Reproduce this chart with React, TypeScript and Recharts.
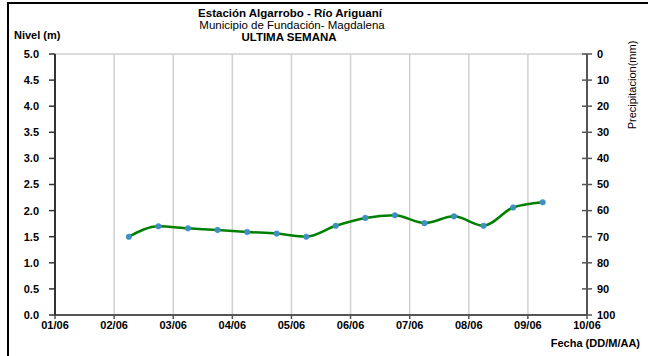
import React from "react";
import { ComposedChart, Line, XAxis, YAxis, CartesianGrid } from "recharts";

// Days since 01/06 (0 = 01/06 00:00)
const dayOffsets = [1.25, 1.75, 2.25, 2.75, 3.25, 3.75, 4.25, 4.75, 5.25, 5.75, 6.25, 6.75, 7.25, 7.75, 8.25];
const levels = [1.5, 1.7, 1.66, 1.63, 1.59, 1.56, 1.5, 1.71, 1.86, 1.91, 1.76, 1.89, 1.71, 2.06, 2.16];
const dateTicks = [0, 1, 2, 3, 4, 5, 6, 7, 8, 9];
const dateLabels = ["01/06", "02/06", "03/06", "04/06", "05/06", "06/06", "07/06", "08/06", "09/06", "10/06"];
const levelTicks = [0, 0.5, 1, 1.5, 2, 2.5, 3, 3.5, 4, 4.5, 5];
const rainTicks = [0, 10, 20, 30, 40, 50, 60, 70, 80, 90, 100];

const data = dayOffsets.map((d, i) => ({ day: d, nivel: levels[i], lluvia: null as number | null }));

const FONT = "'Liberation Sans', Arial, sans-serif";

const RightTick = (props: any) => {
  const { x, y, payload } = props;
  return (
    <g>
      <line x1={x - 15} x2={x - 5} y1={y} y2={y} stroke="#555" strokeWidth={1.5} />
      <text x={x} y={y} dy="0.35em" textAnchor="start" fontFamily={FONT} fontWeight="bold" fontSize={11} fill="#000">
        {payload.value}
      </text>
    </g>
  );
};

export default function App() {
  return (
    <div style={{ position: "fixed", left: 0, top: 0, width: 648, height: 356, background: "#fff", overflow: "hidden" }}>
      <ComposedChart width={648} height={356} data={data} margin={{ top: 54, right: 0, bottom: 0, left: 0 }}>
        <CartesianGrid stroke="#d0d0d0" strokeWidth={1.5} />
        <XAxis
          dataKey="day"
          type="number"
          domain={[0, 9]}
          ticks={dateTicks}
          tickFormatter={(v: number) => dateLabels[v]}
          height={41}
          axisLine={{ stroke: "#555", strokeWidth: 2 }}
          tickLine={{ stroke: "#555", strokeWidth: 1.5 }}
          tickSize={4}
          tickMargin={2}
          tick={{ fontFamily: FONT, fontWeight: "bold", fontSize: 11, fill: "#000" }}
          interval={0}
        />
        <YAxis
          yAxisId="left"
          domain={[0, 5]}
          ticks={levelTicks}
          tickFormatter={(v: number) => v.toFixed(1)}
          width={55}
          axisLine={{ stroke: "#333", strokeWidth: 2 }}
          tickLine={{ stroke: "#333", strokeWidth: 1.5 }}
          tickSize={6}
          tickMargin={10}
          tick={{ fontFamily: FONT, fontWeight: "bold", fontSize: 11, fill: "#000" }}
          interval={0}
        />
        <YAxis
          yAxisId="right"
          orientation="right"
          type="number"
          domain={[0, 100]}
          allowDataOverflow
          reversed
          ticks={rainTicks}
          width={61}
          axisLine={{ stroke: "#555", strokeWidth: 2 }}
          tickLine={false}
          tickSize={5}
          tickMargin={5}
          tick={<RightTick />}
          interval={0}
        />
        <Line
          yAxisId="right"
          dataKey="lluvia"
          stroke="none"
          dot={false}
          activeDot={false}
          legendType="none"
          isAnimationActive={false}
        />
        <Line
          yAxisId="left"
          dataKey="nivel"
          type="monotone"
          stroke="#008000"
          strokeWidth={2.5}
          dot={{ r: 2.8, fill: "#3f8fc0", stroke: "#3f8fc0", strokeWidth: 0.5 }}
          isAnimationActive={false}
        />
      </ComposedChart>
      <svg width={648} height={356} style={{ position: "absolute", left: 0, top: 0, pointerEvents: "none" }}>
        <rect x={8} y={3} width={700} height={400} fill="none" stroke="#000" strokeWidth={2} />
        <text x={290} y={17} textAnchor="middle" fontFamily={FONT} fontWeight="bold" fontSize={11.5} fill="#000">
          Estación Algarrobo - Río Ariguaní
        </text>
        <text x={292} y={29} textAnchor="middle" fontFamily={FONT} fontSize={11.5} fill="#000">
          Municipio de Fundación- Magdalena
        </text>
        <text x={289} y={41} textAnchor="middle" fontFamily={FONT} fontWeight="bold" fontSize={11.5} fill="#000">
          ULTIMA SEMANA
        </text>
        <text x={14} y={39} textAnchor="start" fontFamily={FONT} fontWeight="bold" fontSize={11} fill="#000">
          Nivel (m)
        </text>
        <text x={640} y={347} textAnchor="end" fontFamily={FONT} fontWeight="bold" fontSize={11} fill="#000">
          Fecha (DD/M/AA)
        </text>
        <text
          x={0}
          y={0}
          transform="translate(636,85) rotate(-90)"
          textAnchor="middle"
          fontFamily={FONT}
          fontSize={11}
          fill="#000"
        >
          Precipitacion(mm)
        </text>
      </svg>
    </div>
  );
}
